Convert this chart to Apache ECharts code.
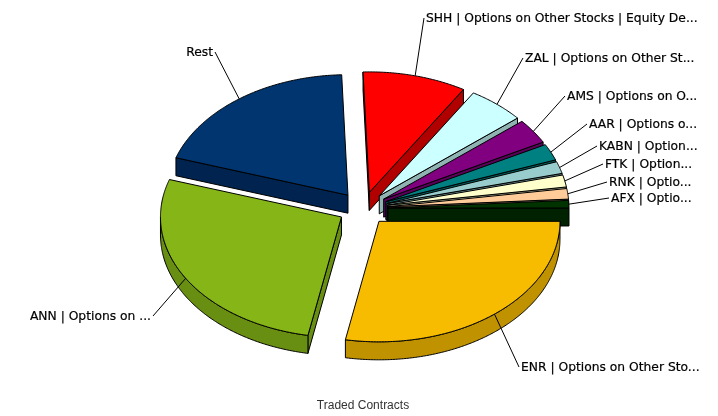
<!DOCTYPE html>
<html><head><meta charset="utf-8">
<style>html,body{margin:0;padding:0;background:#fff}#c{width:718px;height:416px}</style>
<script src="https://cdn.jsdelivr.net/npm/echarts@6/dist/echarts.min.js"></script>
</head><body><div id="c"></div>
<script>
const categories = ["ENR | Options on Other Sto...","ANN | Options on ...","Rest","SHH | Options on Other Stocks | Equity De...","ZAL | Options on Other St...","AMS | Options on O...","AAR | Options o...","KABN | Option...","FTK | Option...","RNK | Optio...","AFX | Optio..."];
const shares = [27.8,26.9,19.3,9.2,5.1,3.3,2.2,1.6,1.6,1.4,1.0];
const topColors = ["#F7BC00","#85B517","#003570","#FF0000","#CCFFFF","#800080","#008080","#99CCCC","#FFFFCC","#FFCC99","#003300"];
const sideColors = ["#C09200","#688E12","#002350","#B00000","#8FB3B3","#5A005A","#005A5A","#6B8F8F","#B3B38F","#B38F6B","#002200"];
const drawOrder = [2,3,4,5,6,7,8,9,10,1,0];
const labelX = [521,151,213,426,525,567,589,599,605,609,611];
const labelY = [367,316,52,18,58,96,124,146,164,182,198];
const labelAlign = ["left","right","right","left","left","left","left","left","left","left","left"];
const axisTitle = "Traded Contracts";
const pie = {cx:363, cy:208.5, rx:181, ry:120.5, depth:18, explode:25, start:90};

const total = shares.reduce((a,b)=>a+b,0);
const starts = [], ends = [];
shares.reduce((acc,v,i)=>{starts[i]=acc; ends[i]=acc+v/total*360; return ends[i];}, pie.start);
const rad = d=>d*Math.PI/180;
const seriesData = drawOrder.map(i=>({value:[shares[i],starts[i],ends[i],i]}));

function renderSlice(params, api){
  const i = api.value(3), a0 = api.value(1), a1 = api.value(2);
  const mid = (a0+a1)/2, k = pie.ry/pie.rx;
  const ox = pie.cx + pie.explode*Math.sin(rad(mid));
  const oy = pie.cy - pie.explode*k*Math.cos(rad(mid));
  const pt = (a,d=0)=>[ox+pie.rx*Math.sin(rad(a)), oy-pie.ry*Math.cos(rad(a))+d];
  const arc = (s,e,d=0)=>{const o=[],n=Math.max(2,Math.ceil((e-s)*2));for(let j=0;j<=n;j++)o.push(pt(s+(e-s)*j/n,d));return o;};
  const stroke = {stroke:'#000',lineWidth:1,lineJoin:'round'};
  const kids = [];
  const side = sideColors[i], d = pie.depth;
  const poly = (points,fill)=>kids.push({type:'polygon',shape:{points},style:Object.assign({fill},stroke)});
  const apex=[ox,oy], apexD=[ox,oy+d];
  if(Math.sin(rad(a0))<-1e-6) poly([apex,pt(a0),pt(a0,d),apexD],side);
  if(Math.sin(rad(a1))>-1e-6) poly([apex,pt(a1),pt(a1,d),apexD],side);
  const s=Math.max(a0,90), e=Math.min(a1,270);
  if(e>s) poly(arc(s,e).concat(arc(s,e,d).reverse()),side);
  poly([apex].concat(arc(a0,a1)),topColors[i]);
  const lx=labelX[i], ly=labelY[i], al=labelAlign[i];
  const elbow=[lx+(al==='left'?-2:2),ly];
  kids.push({type:'polyline',z2:50,shape:{points:[pt(mid),elbow]},style:{stroke:'#000',lineWidth:1,fill:null}});
  kids.push({type:'text',z2:60,style:{text:categories[i],x:lx,y:ly+1,align:al,verticalAlign:'middle',fill:'#000',stroke:'#000',lineWidth:0.2,font:'12.3px "DejaVu Sans"'}});
  return {type:'group',children:kids};
}
const chart = echarts.init(document.getElementById('c'),null,{renderer:'canvas'});
chart.setOption({
  animation:false,
  backgroundColor:'#fff',
  title:{text:axisTitle,left:363,top:400,textAlign:'center',textVerticalAlign:'top',padding:0,textStyle:{fontFamily:'"Liberation Sans"',fontSize:12,fontWeight:'normal',color:'#333'}},
  series:[{type:'custom',coordinateSystem:'none',renderItem:renderSlice,data:seriesData,silent:true,clip:false}]
});
</script></body></html>
